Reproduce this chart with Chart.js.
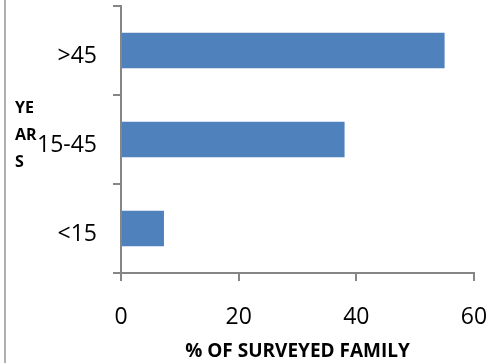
<!DOCTYPE html>
<html>
<head>
<meta charset="utf-8">
<script src="https://cdn.jsdelivr.net/npm/chart.js@4/dist/chart.umd.min.js"></script>
<style>
  html, body { margin: 0; padding: 0; background: #ffffff; }
  #wrap { position: relative; width: 495px; height: 363px; }
</style>
</head>
<body>
<div id="wrap"><canvas id="c" width="495" height="363"></canvas></div>
<script>
// Age groups (top to bottom) and share of surveyed families in each
const ageGroups = [">45", "15-45", "<15"];
const familyShare = [55, 38, 7.3];
const xTicks = [0, 20, 40, 60];
const yTitleLines = ["YE", "AR", "S"];
const xTitle = "% OF SURVEYED FAMILY";

const AXIS_GRAY = "#868686";
const BAR_BLUE = "#4F81BD";

// Frame line on the left edge plus the stacked, unrotated y-axis caption
const sideDecor = {
  id: "sideDecor",
  afterDraw(chart) {
    const ctx = chart.ctx;
    ctx.save();
    ctx.strokeStyle = "#b0b0b0";
    ctx.lineWidth = 2;
    ctx.beginPath();
    ctx.moveTo(5, 0);
    ctx.lineTo(5, chart.height);
    ctx.stroke();

    ctx.fillStyle = "#000000";
    ctx.font = "bold 16px 'Open Sans'";
    ctx.textAlign = "left";
    ctx.textBaseline = "middle";
    const startY = 108, step = 27;
    yTitleLines.forEach((t, i) => ctx.fillText(t, 15, startY + i * step));
    ctx.restore();
  }
};

new Chart(document.getElementById("c"), {
  type: "bar",
  data: {
    labels: ageGroups,
    datasets: [{
      data: familyShare,
      backgroundColor: BAR_BLUE,
      borderWidth: 0,
      barPercentage: 0.4,
      categoryPercentage: 1.0
    }]
  },
  options: {
    indexAxis: "y",
    responsive: false,
    animation: false,
    devicePixelRatio: 1,
    layout: { padding: { left: 0, right: 21, top: 6, bottom: 0 } },
    plugins: {
      legend: { display: false },
      tooltip: { enabled: false }
    },
    scales: {
      x: {
        min: 0,
        max: 60,
        afterBuildTicks(axis) { axis.ticks = xTicks.map(v => ({ value: v })); },
        afterFit(axis) {
          axis.height = 90;
          axis.paddingLeft = 0;
          axis.paddingRight = 0;
        },
        border: { display: true, color: AXIS_GRAY, width: 2 },
        grid: { drawOnChartArea: false, drawTicks: true, tickLength: 8, color: AXIS_GRAY, lineWidth: 2 },
        ticks: {
          color: "#000000",
          font: { family: "'Open Sans'", size: 23 },
          padding: 23,
          maxRotation: 0
        },
        title: {
          display: true,
          text: xTitle,
          color: "#000000",
          font: { family: "'Open Sans'", size: 19, weight: "bold" },
          padding: { top: 0, bottom: 0 }
        }
      },
      y: {
        afterFit(axis) {
          axis.width = 121;
          axis.paddingTop = 0;
          axis.paddingBottom = 0;
        },
        border: { display: true, color: AXIS_GRAY, width: 2 },
        grid: { drawOnChartArea: false, drawTicks: true, tickLength: 8, color: AXIS_GRAY, lineWidth: 2, offset: true },
        ticks: {
          color: "#000000",
          font: { family: "'Open Sans'", size: 23 },
          padding: 16,
          labelOffset: 6
        }
      }
    }
  },
  plugins: [sideDecor]
});
</script>
</body>
</html>
